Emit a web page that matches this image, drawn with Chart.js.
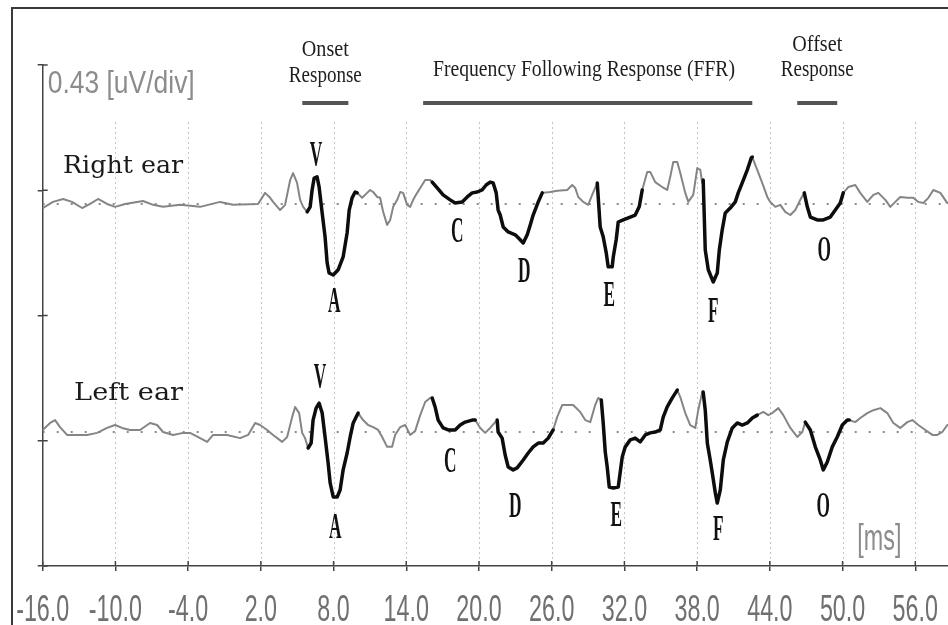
<!DOCTYPE html>
<html>
<head>
<meta charset="utf-8">
<script src="https://cdn.jsdelivr.net/npm/chart.js@4.4.0/dist/chart.umd.min.js"></script>
<style>
  html, body { margin: 0; padding: 0; background: #fff; }
  #wrap { width: 948px; height: 625px; position: relative; }
</style>
</head>
<body>
<div id="wrap"><canvas id="visualization"></canvas></div>
<script>
// time axis tick labels [ms]
var xTickLabels = ['-16.0', '-10.0', '-4.0', '2.0', '8.0', '14.0', '20.0', '26.0', '32.0', '38.0', '44.0', '50.0', '56.0'];
var uvPerDiv = 0.43;

// right ear trace: time [ms] and amplitude [uV] around its baseline
var rightBase = 1.243;
var rightTime = [
  -16.0, -15.15, -14.32, -13.58, -12.75, -12.09, -11.43, -10.69, -10.03, -9.20,
  -7.72, -6.89, -6.07, -4.66, -3.01, -1.36, -0.29, 1.77, 2.35, 2.77,
  3.01, 3.59, 4.00, 4.42, 4.66, 4.99, 5.24, 5.49, 5.82, 6.07,
  6.23, 6.40, 6.64, 6.81, 7.06, 7.30, 7.47, 7.63, 7.97, 8.38,
  8.79, 9.12, 9.29, 9.53, 9.78, 9.95, 10.36, 10.77, 11.02, 11.27,
  11.60, 11.84, 12.09, 12.42, 12.67, 12.92, 13.25, 13.50, 13.74, 14.07,
  14.32, 14.57, 14.90, 15.15, 15.56, 15.97, 16.14, 16.55, 17.04, 17.62,
  18.03, 18.61, 19.03, 19.44, 19.85, 20.26, 20.59, 20.92, 21.17, 21.42,
  21.58, 21.75, 22.00, 22.41, 22.99, 23.40, 23.65, 23.98, 24.23, 24.47,
  24.89, 25.22, 25.88, 26.45, 27.28, 27.69, 27.94, 28.19, 28.60, 29.01,
  29.34, 29.76, 30.00, 30.25, 30.50, 30.66, 30.99, 31.08, 31.32, 31.49,
  31.90, 32.48, 32.89, 33.22, 33.47, 33.88, 34.13, 34.54, 35.12, 35.53,
  35.78, 36.03, 36.36, 36.61, 37.02, 37.27, 37.68, 38.01, 38.26, 38.42,
  38.50, 38.67, 38.92, 39.33, 39.66, 39.83, 40.07, 40.32, 40.73, 41.15,
  41.39, 41.81, 42.14, 42.47, 42.55, 42.96, 43.37, 43.79, 44.03, 44.45,
  44.86, 45.27, 45.69, 46.10, 46.51, 46.84, 47.09, 47.34, 47.91, 48.41,
  48.99, 49.40, 49.81, 50.06, 50.47, 51.05, 51.46, 52.04, 52.54, 52.95,
  53.53, 53.94, 54.35, 54.76, 55.34, 55.84, 56.25, 56.66, 57.08, 57.49,
  58.07, 58.64
];
var rightAmp = [
  -0.014, 0.007, 0.017, 0.007, -0.014, 0, 0.017, 0, -0.010, 0,
  0.010, -0.003, -0.010, -0.003, -0.010, 0.007, -0.003, 0, 0.038, 0.021,
  0.007, -0.021, -0.003, 0.082, 0.106, 0.072, 0.014, -0.010, -0.027, -0.010,
  0.048, 0.089, 0.093, 0.058, -0.031, -0.113, -0.202, -0.237, -0.244, -0.226,
  -0.182, -0.099, -0.021, 0.021, 0.041, 0.038, 0.021, 0.038, 0.048, 0.041,
  0.024, 0.021, -0.027, -0.072, -0.055, -0.010, 0.014, 0.041, 0.038, -0.003,
  -0.010, 0.014, 0.038, 0.055, 0.082, 0.082, 0.075, 0.055, 0.031, 0.014,
  0.003, 0.007, 0.024, 0.038, 0.041, 0.048, 0.065, 0.075, 0.072, 0.038,
  -0.021, -0.038, -0.079, -0.096, -0.106, -0.123, -0.134, -0.106, -0.072, -0.038,
  0.007, 0.038, 0.041, 0.045, 0.048, 0.065, 0.055, 0.024, 0.007, -0.003,
  0.031, 0.072, -0.079, -0.113, -0.168, -0.216, -0.216, -0.182, -0.123, -0.062,
  -0.055, -0.045, -0.038, -0.010, 0.048, 0.110, 0.110, 0.075, 0.058, 0.048,
  0.093, 0.144, 0.144, 0.106, 0.038, 0.007, 0.031, 0.123, 0.117, 0.072,
  0.082, -0.158, -0.226, -0.268, -0.237, -0.158, -0.089, -0.031, -0.014, 0.007,
  0.038, 0.082, 0.117, 0.158, 0.161, 0.117, 0.072, 0.024, 0.007, -0.010,
  -0.003, -0.027, -0.038, -0.021, 0.014, 0.038, -0.010, -0.045, -0.055, -0.055,
  -0.045, -0.021, 0.003, 0.038, 0.058, 0.065, 0.038, 0.007, 0.031, 0.038,
  0.014, -0.010, 0.007, 0.024, 0.021, 0.021, 0.007, 0.003, 0.021, 0.048,
  0.038, 0.003
];
// highlighted (peak) windows of the right ear [ms]
var rightMarked = [[5.82, 9.95], [16.14, 25.22], [29.76, 33.47], [38.50, 42.55], [46.84, 50.06]];

// left ear trace
var leftBase = 0.460;
var leftTime = [
  -16.0, -15.39, -14.98, -14.57, -13.99, -13.17, -12.34, -11.51, -10.69, -10.03,
  -9.45, -8.79, -7.97, -7.14, -6.56, -6.07, -5.24, -4.42, -3.84, -3.01,
  -2.43, -1.94, -0.78, 0.29, 0.95, 1.53, 1.94, 2.52, 3.01, 3.76,
  4.17, 4.58, 4.83, 5.16, 5.41, 5.65, 5.90, 6.15, 6.31, 6.56,
  6.81, 7.06, 7.30, 7.55, 7.72, 7.97, 8.30, 8.54, 8.79, 9.12,
  9.37, 9.62, 10.03, 10.44, 10.85, 11.27, 11.68, 12.01, 12.42, 12.83,
  13.08, 13.50, 13.91, 14.32, 14.73, 15.15, 15.56, 15.97, 16.14, 16.38,
  16.63, 17.04, 17.46, 18.03, 18.45, 18.86, 19.44, 19.69, 20.10, 20.51,
  20.92, 21.34, 21.50, 21.58, 21.91, 22.16, 22.41, 22.82, 23.15, 23.65,
  24.06, 24.47, 24.89, 25.30, 25.71, 26.12, 26.45, 26.87, 27.28, 27.77,
  28.35, 28.77, 29.18, 29.59, 29.84, 30.09, 30.25, 30.42, 30.58, 30.75,
  31.08, 31.49, 31.82, 32.07, 32.48, 32.89, 33.30, 33.72, 34.13, 34.54,
  34.96, 35.20, 35.53, 35.95, 36.36, 36.61, 37.02, 37.43, 37.85, 38.09,
  38.42, 38.50, 38.67, 38.84, 39.08, 39.25, 39.50, 39.66, 39.91, 40.16,
  40.49, 40.90, 41.31, 41.72, 42.14, 42.55, 42.96, 43.46, 43.87, 44.20,
  44.70, 45.11, 45.69, 46.26, 46.68, 46.92, 47.34, 47.75, 48.16, 48.41,
  48.74, 49.15, 49.56, 49.98, 50.39, 50.55, 51.05, 51.46, 52.04, 52.54,
  53.12, 53.69, 54.19, 54.76, 55.34, 55.76, 56.25, 56.83, 57.41, 57.82,
  58.23, 58.64
];
var leftAmp = [
  0.007, 0.031, 0.041, 0.017, -0.010, -0.010, -0.010, -0.003, 0.014, 0.024,
  0.014, 0.007, 0.007, 0.031, 0.024, 0, -0.010, -0.003, -0.003, -0.021,
  -0.034, -0.010, -0.010, -0.021, -0.010, 0.031, 0.024, 0.007, -0.010, -0.034,
  -0.017, 0.051, 0.086, 0.065, -0.003, -0.021, -0.055, -0.038, 0.041, 0.082,
  0.099, 0.065, -0.017, -0.106, -0.175, -0.223, -0.223, -0.199, -0.130, -0.072,
  -0.017, 0.031, 0.065, 0.041, 0.024, 0.017, 0.007, -0.017, -0.051, -0.051,
  -0.010, 0.017, 0.024, -0.010, 0.003, 0.058, 0.103, 0.117, 0.117, 0.086,
  0.041, 0.014, 0.007, 0.007, 0.024, 0.034, 0.041, 0.041, 0.014, -0.003,
  0.014, 0.034, 0.041, 0, -0.021, -0.079, -0.120, -0.130, -0.123, -0.096,
  -0.072, -0.051, -0.038, -0.038, -0.021, 0.007, 0.051, 0.093, 0.093, 0.093,
  0.069, 0.041, 0.034, 0.093, 0.117, 0.110, 0.031, -0.069, -0.120, -0.189,
  -0.192, -0.189, -0.086, -0.051, -0.027, -0.021, -0.034, -0.010, -0.003, 0,
  0.007, 0.051, 0.086, 0.117, 0.144, 0.120, 0.065, 0.024, 0.014, 0.075,
  0.137, 0.137, 0.075, -0.038, -0.096, -0.141, -0.209, -0.244, -0.199, -0.096,
  -0.034, 0.014, 0.031, 0.024, 0.031, 0.048, 0.058, 0.069, 0.058, 0.065,
  0.082, 0.058, 0.014, -0.017, 0, 0.034, 0.007, -0.051, -0.096, -0.130,
  -0.103, -0.051, -0.017, 0.024, 0.041, 0.041, 0.034, 0.048, 0.065, 0.075,
  0.082, 0.065, 0.031, 0.014, 0.034, 0.041, 0.024, 0.007, -0.010, -0.010,
  0, 0.024
];
var leftMarked = [[5.90, 10.03], [16.14, 19.69], [21.50, 26.12], [30.09, 36.36], [38.50, 42.96], [46.92, 50.55]];

// peak names and where their letters sit (ms, uV at letter bottom)
var peakNames = ['V', 'A', 'C', 'D', 'E', 'F', 'O'];
var rightPeakPos = [[6.56, 1.373], [8.05, 0.872], [18.20, 1.112], [23.73, 0.975], [30.75, 0.893], [39.33, 0.838], [48.49, 1.047]];
var leftPeakPos = [[6.89, 0.611], [8.13, 0.096], [17.62, 0.323], [22.99, 0.168], [31.33, 0.137], [39.74, 0.089], [48.41, 0.168]];

// response windows marked above the traces [ms]
var windows = [
  { name: ['Onset', 'Response'], from: 5.42, to: 9.22 },
  { name: ['Frequency Following Response (FFR)'], from: 15.39, to: 42.55 },
  { name: ['Offset', 'Response'], from: 46.26, to: 49.56 }
];

function toPoints(times, amps, base) {
  return times.map(function(t, i) { return { x: t, y: base + amps[i] }; });
}
function markedPoints(times, amps, base, ranges) {
  return times.map(function(t, i) {
    var inside = ranges.some(function(r) { return t >= r[0] - 1e-6 && t <= r[1] + 1e-6; });
    return { x: t, y: inside ? base + amps[i] : null };
  });
}

function squeeze(ctx, text, x, y, font, sx, align) {
  ctx.save();
  ctx.font = font;
  ctx.textAlign = align || 'center';
  ctx.textBaseline = 'alphabetic';
  ctx.translate(x, y);
  ctx.scale(sx, 1);
  ctx.fillText(text, 0, 0);
  ctx.restore();
}
function fitText(ctx, text, x, y, font, width, align) {
  ctx.save();
  ctx.font = font;
  var sx = width / ctx.measureText(text).width;
  ctx.restore();
  squeeze(ctx, text, x, y, font, sx, align);
}

var overlay = {
  id: 'overlay',
  beforeDatasetsDraw: function(chart) {
    var ctx = chart.ctx, xs = chart.scales.x, ys = chart.scales.y, area = chart.chartArea;
    ctx.save();
    // outer frame
    ctx.strokeStyle = '#3a3a3a';
    ctx.lineWidth = 2;
    ctx.strokeRect(12, 8, 1000, 1000);
    // dotted vertical grid
    ctx.strokeStyle = '#c4c4c4';
    ctx.lineWidth = 1;
    ctx.setLineDash([2, 3]);
    xs.ticks.forEach(function(t, i) {
      if (i === 0) return;
      var x = Math.round(xs.getPixelForValue(t.value)) + 0.5;
      ctx.beginPath();
      ctx.moveTo(x, 122);
      ctx.lineTo(x, area.bottom);
      ctx.stroke();
    });
    ctx.setLineDash([]);
    // inner half of the tick crosses
    ctx.strokeStyle = '#444';
    ctx.lineWidth = 1.5;
    xs.ticks.forEach(function(t) {
      var x = xs.getPixelForValue(t.value);
      ctx.beginPath();
      ctx.moveTo(x, area.bottom);
      ctx.lineTo(x, area.bottom - 5);
      ctx.stroke();
    });
    ys.ticks.forEach(function(t) {
      var y = ys.getPixelForValue(t.value);
      ctx.beginPath();
      ctx.moveTo(area.left, y);
      ctx.lineTo(area.left + 5, y);
      ctx.stroke();
    });
    ctx.restore();
  },
  afterDraw: function(chart) {
    var ctx = chart.ctx, xs = chart.scales.x, ys = chart.scales.y, area = chart.chartArea;
    ctx.save();
    // tick labels
    ctx.fillStyle = '#707070';
    xs.ticks.forEach(function(t, i) {
      squeeze(ctx, xTickLabels[i], xs.getPixelForValue(t.value), area.bottom + 55, '37px "Liberation Sans"', 0.63);
    });
    ctx.fillStyle = '#8c8c8c';
    fitText(ctx, uvPerDiv.toFixed(2) + ' [uV/div]', area.left + 5, area.top + 28, '31px "Liberation Sans"', 147, 'left');
    fitText(ctx, '[ms]', xs.getPixelForValue(51.22), area.bottom - 16, '36px "Liberation Sans"', 44, 'left');

    // response windows
    var headY = [[56, 82], [76], [51, 76]];
    var headW = [[47, 73], [302], [50, 73]];
    windows.forEach(function(w, i) {
      var x0 = xs.getPixelForValue(w.from), x1 = xs.getPixelForValue(w.to);
      var cx = (x0 + x1) / 2;
      ctx.fillStyle = '#1e1e1e';
      w.name.forEach(function(line, j) {
        fitText(ctx, line, i === 1 ? 584 : cx, headY[i][j], '24px "Liberation Serif"', headW[i][j]);
      });
      ctx.strokeStyle = '#555';
      ctx.lineWidth = 4;
      ctx.beginPath();
      ctx.moveTo(x0, 103);
      ctx.lineTo(x1, 103);
      ctx.stroke();
    });

    // ear labels
    ctx.fillStyle = '#1a1a1a';
    fitText(ctx, 'Right ear', xs.getPixelForValue(-14.32), ys.getPixelForValue(1.349), '24px "DejaVu Serif"', 120, 'left');
    fitText(ctx, 'Left ear', xs.getPixelForValue(-13.41), ys.getPixelForValue(0.570), '24px "DejaVu Serif"', 109, 'left');

    // peak letters
    ctx.fillStyle = '#111';
    [rightPeakPos, leftPeakPos].forEach(function(pos) {
      pos.forEach(function(p, i) {
        squeeze(ctx, peakNames[i], xs.getPixelForValue(p[0]), ys.getPixelForValue(p[1]), 'bold 36px "Liberation Serif"', 0.48);
      });
    });
    ctx.restore();
  }
};

var axisGrid = { drawOnChartArea: false, drawTicks: true, tickLength: 5, color: '#444', lineWidth: 1.5 };
var axisBorder = { display: true, color: '#444', width: 1.5, dash: [5, 2] };

var baselineStyle = { borderColor: '#8a8a8a', borderWidth: 2, borderDash: [2, 12], borderCapStyle: 'butt', order: 3 };

var ctx = document.getElementById('visualization').getContext('2d');
var myChart = new Chart(ctx, {
  type: 'line',
  data: {
    datasets: [
      Object.assign({ data: [{ x: -16, y: rightBase }, { x: 58.7, y: rightBase }] }, baselineStyle),
      Object.assign({ data: [{ x: -16, y: leftBase }, { x: 58.7, y: leftBase }] }, baselineStyle),
      { data: toPoints(rightTime, rightAmp, rightBase), borderColor: '#858585', borderWidth: 2, borderCapStyle: 'round', order: 2 },
      { data: toPoints(leftTime, leftAmp, leftBase), borderColor: '#858585', borderWidth: 2, borderCapStyle: 'round', order: 2 },
      { data: markedPoints(rightTime, rightAmp, rightBase, rightMarked), borderColor: '#0d0d0d', borderWidth: 3.5, borderCapStyle: 'round', order: 1 },
      { data: markedPoints(leftTime, leftAmp, leftBase, leftMarked), borderColor: '#0d0d0d', borderWidth: 3.5, borderCapStyle: 'round', order: 1 }
    ]
  },
  options: {
    responsive: true,
    maintainAspectRatio: false,
    animation: false,
    layout: { padding: { top: 65, left: 0, right: 0, bottom: 0 } },
    elements: { point: { radius: 0 }, line: { tension: 0, borderJoinStyle: 'round' } },
    plugins: { legend: { display: false }, tooltip: { enabled: false } },
    scales: {
      x: {
        type: 'linear', min: -16, max: 58.7,
        afterBuildTicks: function(s) { s.ticks = xTickLabels.map(function(l) { return { value: parseFloat(l) }; }); },
        afterFit: function(s) { s.height = 59; },
        ticks: { display: false },
        grid: axisGrid,
        border: axisBorder
      },
      y: {
        min: 0, max: 4 * uvPerDiv,
        afterBuildTicks: function(s) { s.ticks = [0, 1, 2, 3, 4].map(function(k) { return { value: k * uvPerDiv }; }); },
        afterFit: function(s) { s.width = 42.7; },
        ticks: { display: false },
        grid: axisGrid,
        border: axisBorder
      }
    }
  },
  plugins: [overlay]
});
</script>
</body>
</html>
